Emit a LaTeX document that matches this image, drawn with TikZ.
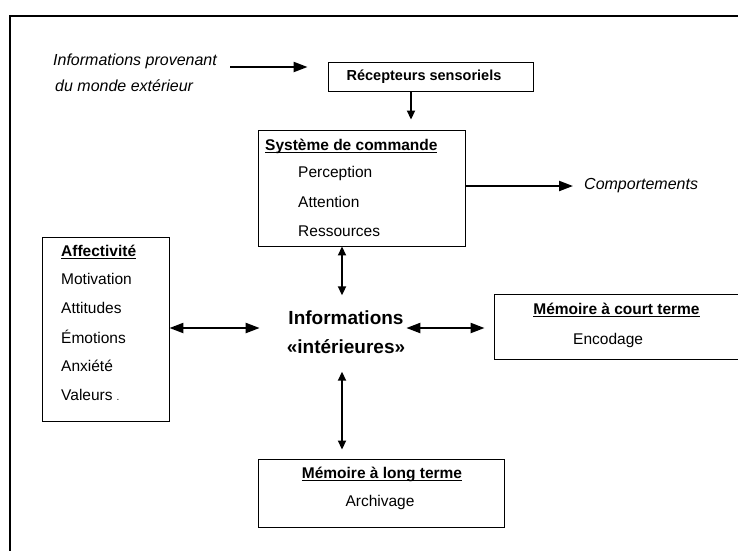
\documentclass[tikz,border=0pt]{standalone}
\usepackage{fontspec}
\setmainfont{Liberation Sans}
\usetikzlibrary{arrows.meta}
\begin{document}
\begin{tikzpicture}[x=1pt,y=-1pt,
  boxnode/.style={draw, line width=0.9pt, rectangle, inner sep=0pt},
  body/.style={inner sep=0pt, font=\fontsize{15.5}{18}\selectfont},
  itbody/.style={inner sep=0pt, font=\itshape\fontsize{16}{18}\selectfont},
  ttl/.style={inner sep=0pt, font=\bfseries\fontsize{15.5}{18}\selectfont},
  harr/.style={line width=2.2pt, -{Triangle[length=14pt,width=10pt]}},
  dharr/.style={line width=2.2pt, {Triangle[length=14pt,width=10pt]}-{Triangle[length=14pt,width=10pt]}},
  vdarr/.style={line width=1.8pt, {Triangle[length=9pt,width=8pt]}-{Triangle[length=9pt,width=8pt]}},
  varr/.style={line width=1.8pt, -{Triangle[length=9pt,width=8pt]}}
]
\useasboundingbox (0,0) rectangle (738,550);
\clip (0,0) rectangle (738,550);
\fill[white] (0,0) rectangle (738,550);

% outer frame
\draw[line width=1.6pt] (10,552) -- (10,16) -- (740,16);

% external information
\node[itbody, anchor=west] (ext1) at (53,61) {Informations provenant};
\node[itbody, anchor=west] (ext2) at (55,86) {du monde extérieur};

% receptors
\node[boxnode, minimum width=205pt, minimum height=29pt] (recep) at (430.5,76.5) {};
\node[inner sep=0pt, font=\bfseries\fontsize{14.5}{17}\selectfont] (recept) at (424,76.5) {Récepteurs sensoriels};

% command system
\node[boxnode, minimum width=207pt, minimum height=116pt] (syst) at (361.5,188) {};
\node[ttl, anchor=base west] (systt) at (265,150.5) {\underline{\smash{Système de commande}}};
\node[body, anchor=west] (perc) at (298,173) {Perception};
\node[body, anchor=west] (att) at (298,202) {Attention};
\node[body, anchor=west] (res) at (298,231) {Ressources};

% behaviours
\node[itbody, anchor=west] (comp) at (584,186) {Comportements};

% affectivity
\node[boxnode, minimum width=127pt, minimum height=184pt] (aff) at (105.5,329) {};
\node[ttl, anchor=base west] (afft) at (61,256.5) {\underline{\smash{Affectivité}}};
\node[body, anchor=west] (mot) at (61,279) {Motivation};
\node[body, anchor=west] (attit) at (61,308) {Attitudes};
\node[body, anchor=west] (emo) at (61,337) {Émotions};
\node[body, anchor=west] (anx) at (61,366) {Anxiété};
\node[body, anchor=west] (val) at (61,395) {Valeurs\hspace{4pt}{\fontsize{10}{10}\selectfont .}};

% inner information
\node[inner sep=0pt, align=center, font=\bfseries\fontsize{19}{29}\selectfont] (info) at (346,332) {Informations\\«intérieures»};

% short-term memory
\node[boxnode, minimum width=256pt, minimum height=65pt] (court) at (622,326.5) {};
\node[ttl, anchor=base] (courtt) at (616.5,314.5) {\underline{\smash{Mémoire à court terme}}};
\node[body, anchor=west] (enc) at (573,340) {Encodage};

% long-term memory
\node[boxnode, minimum width=246pt, minimum height=68pt] (long) at (381,493) {};
\node[ttl, anchor=base] (longt) at (382,478.5) {\underline{\smash{Mémoire à long terme}}};
\node[body] (arch) at (380,502) {Archivage};

% connectors
\coordinate (colA) at (411,0);
\coordinate (colB) at (342,0);
\coordinate (rowA) at (0,67);
\coordinate (rowB) at (0,328);

\draw[harr, shorten <=13pt, shorten >=20pt] (ext1.east |- rowA) -- (recep.west |- rowA);
\draw[varr, shorten >=10pt] (recep.south -| colA) -- (syst.north -| colA);
\draw[harr, shorten >=11pt] (syst.east |- comp.west) -- (comp.west);
\draw[vdarr, shorten >=15pt] (syst.south -| colB) -- (info.north -| colB);
\draw[dharr, shorten >=27pt] (aff.east |- rowB) -- (info.west |- rowB);
\draw[dharr, shorten <=1pt, shorten >=9pt] (info.east |- rowB) -- (court.west |- rowB);
\draw[vdarr, shorten <=18pt, shorten >=9pt] (info.south -| colB) -- (long.north -| colB);
\end{tikzpicture}
\end{document}
